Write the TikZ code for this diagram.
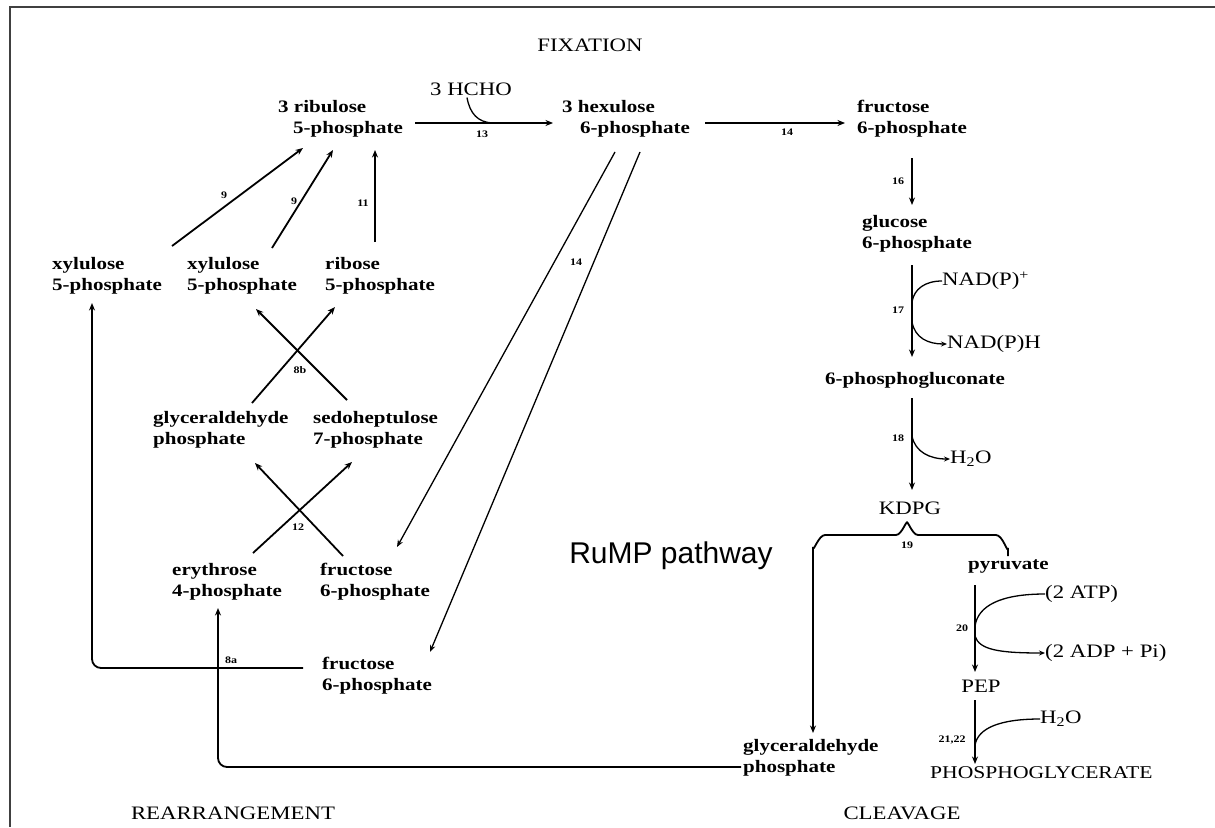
\documentclass[tikz,border=0pt]{standalone}
\usepackage{fontspec}
\setmainfont{Liberation Serif}
\newfontfamily\chem{Liberation Serif}[FakeStretch=1.2]
\newfontfamily\sanslbl{Liberation Sans}
\usetikzlibrary{arrows.meta}
\begin{document}
\begin{tikzpicture}[x=1pt,y=-1pt,
  cmp/.style={font=\chem\bfseries\fontsize{17.5}{21}\selectfont, align=left, inner sep=0pt, anchor=west},
  rea/.style={font=\chem\fontsize{19}{21}\selectfont, inner sep=0pt, anchor=west},
  hdr/.style={font=\chem\fontsize{19}{21}\selectfont, inner sep=0pt},
  enz/.style={font=\chem\bfseries\fontsize{10}{11}\selectfont, inner sep=0pt},
  rx/.style={line width=1.8pt, -{Stealth[length=7.5pt,width=6pt]}},
  rxt/.style={line width=1.3pt, -{Stealth[length=7pt,width=5.5pt]}},
  ln/.style={line width=1.8pt},
  lnt/.style={line width=1.3pt},
  frame/.style={line width=1.6pt, draw=black!75}]
\useasboundingbox (0,0) rectangle (1215,827);
\fill[white] (0,0) rectangle (1215,827);
\draw[frame] (9,7) -- (1215,7);
\draw[frame] (10,7) -- (10,827);

% headers
\node[hdr] (fix) at (590,45) {FIXATION};
\node[hdr] (rea) at (233,813) {REARRANGEMENT};
\node[hdr] (clv) at (902,813) {CLEAVAGE};
\node[font=\sanslbl\fontsize{30}{32}\selectfont, inner sep=0pt] (rump) at (671,556) {RuMP pathway};

% compounds
\node[cmp] (rib) at (278,119) {3 ribulose\\\hspace*{15pt}5-phosphate};
\node[cmp] (hex) at (562,119) {3 hexulose\\\hspace*{18pt}6-phosphate};
\node[cmp] (fru1) at (857,119) {fructose\\6-phosphate};
\node[cmp] (glc) at (862,234) {glucose\\6-phosphate};
\node[cmp] (pgl) at (825,380) {6-phosphogluconate};
\node[hdr] (kdpg) at (910,508) {KDPG};
\node[cmp] (pyr) at (968,566) {pyruvate};
\node[hdr] (pep) at (981,686) {PEP};
\node[hdr, anchor=west, font=\chem\fontsize{18}{21}\selectfont] (phg) at (930,773) {PHOSPHOGLYCERATE};
\node[cmp] (gap2) at (743,758) {glyceraldehyde\\phosphate};

\node[cmp] (xu1) at (52,276) {xylulose\\5-phosphate};
\node[cmp] (xu2) at (187,276) {xylulose\\5-phosphate};
\node[cmp] (ribo) at (325,276) {ribose\\5-phosphate};
\node[cmp] (gap1) at (153,430) {glyceraldehyde\\phosphate};
\node[cmp] (sed) at (313,430) {sedoheptulose\\7-phosphate};
\node[cmp] (ery) at (172,582) {erythrose\\4-phosphate};
\node[cmp] (fru2) at (320,582) {fructose\\6-phosphate};
\node[cmp] (fru3) at (322,676) {fructose\\6-phosphate};

% reagents
\node[hdr] (hcho) at (471,89) {3 HCHO};
\node[rea] (nadp) at (942,281) {NAD(P)\textsuperscript{+}};
\node[rea] (nadph) at (947,344) {NAD(P)H};
\node[rea] (wat1) at (950,459) {H\textsubscript{2}O};
\node[rea] (atp) at (1045,594) {(2 ATP)};
\node[rea] (adp) at (1045,653) {(2 ADP + Pi)};
\node[rea] (wat2) at (1040,719) {H\textsubscript{2}O};

% enzyme numbers
\node[enz] (e13) at (482,134) {13};
\node[enz] (e14) at (787,132) {14};
\node[enz] (e14b) at (576,262) {14};
\node[enz] (e16) at (898,181) {16};
\node[enz] (e17) at (898,310) {17};
\node[enz] (e18) at (898,438) {18};
\node[enz] (e19) at (907,545) {19};
\node[enz] (e20) at (962,628) {20};
\node[enz] (e21) at (952,740) {21,22};
\node[enz] (e9a) at (224,195) {9};
\node[enz] (e9b) at (294,201) {9};
\node[enz] (e11) at (363,203) {11};
\node[enz] (e8b) at (300,370) {8b};
\node[enz] (e12) at (298,527) {12};
\node[enz] (e8a) at (231,660) {8a};

% coordinates for connector ends
\coordinate (a13s) at (415,123); \coordinate (a13e) at (553,123);
\coordinate (a14s) at (705,123); \coordinate (a14e) at (845,123);
\coordinate (a16s) at (912,158); \coordinate (a16e) at (912,205);
\coordinate (a17s) at (912,265); \coordinate (a17e) at (912,357);
\coordinate (a18s) at (912,398); \coordinate (a18e) at (912,490);
\coordinate (a20s) at (975,585); \coordinate (a20e) at (975,672);
\coordinate (a21s) at (975,700); \coordinate (a21e) at (975,764);

% fixation
\draw[rx] (a13s) -- (a13e);
\draw[lnt] (hcho.south) ++(-4,2) .. controls (470,114) and (478,122) .. (492,123);
\draw[rx] (a14s) -- (a14e);

% right column
\draw[rx] (a16s) -- (a16e);
\draw[rx] (a17s) -- (a17e);
\draw[lnt] (912,302) .. controls (914,289) and (925,281) .. (nadp.west);
\draw[lnt, -{Stealth[length=6pt,width=5pt]}] (912,322) .. controls (915,338) and (928,344) .. (nadph.west);
\draw[rx] (a18s) -- (a18e);
\draw[lnt, -{Stealth[length=6pt,width=5pt]}] (912,436) .. controls (915,452) and (930,459) .. (wat1.west);

% cleavage brace
\draw[ln] (1008,556) -- (1008,548) to[out=-90,in=0] (996,535) -- (918,535) to[out=180,in=90] (907,524);
\draw[rx] (907,524) to[out=90,in=0] (896,535) -- (825,535) to[out=180,in=-90] (813,547) -- (813,733);
\draw[rx] (a20s) -- (a20e);
\draw[lnt] (975,626) .. controls (978,606) and (1000,594) .. (atp.west);
\draw[lnt, -{Stealth[length=6pt,width=5pt]}] (975,636) .. controls (979,650) and (1000,653) .. (adp.west);
\draw[rx] (a21s) -- (a21e);
\draw[lnt] (975,745) .. controls (978,728) and (1000,719) .. (wat2.west);

% rearrangement
\coordinate (x1t) at (172,246); \coordinate (rb1) at (303,148);
\coordinate (x2t) at (272,248); \coordinate (rb2) at (333,150);
\coordinate (rit) at (375,242); \coordinate (rb3) at (375,150);
\draw[rx] (x1t) -- (rb1);
\draw[rx] (x2t) -- (rb2);
\draw[rx] (rit) -- (rb3);

\coordinate (g1t) at (252,403); \coordinate (rbb) at (335,307);
\coordinate (sdt) at (347,400); \coordinate (x2b) at (256,309);
\draw[rx] (g1t) -- (rbb);
\draw[rx] (sdt) -- (x2b);

\coordinate (ert) at (253,553); \coordinate (sdb) at (352,462);
\coordinate (f2t) at (343,556); \coordinate (g1b) at (255,463);
\draw[rx] (ert) -- (sdb);
\draw[rx] (f2t) -- (g1b);

\coordinate (hx1) at (615,152); \coordinate (f2e) at (397,547);
\coordinate (hx2) at (640,152); \coordinate (f3e) at (430,652);
\draw[rxt] (hx1) -- (f2e);
\draw[rxt] (hx2) -- (f3e);

\coordinate (f3w) at (303,668); \coordinate (x1b) at (92,303);
\draw[rx, rounded corners=9pt] (f3w) -- (92,668) -- (x1b);
\coordinate (g2w) at (741,767); \coordinate (erb) at (218,608);
\draw[rx, rounded corners=9pt] (g2w) -- (218,767) -- (erb);
\end{tikzpicture}
\end{document}
